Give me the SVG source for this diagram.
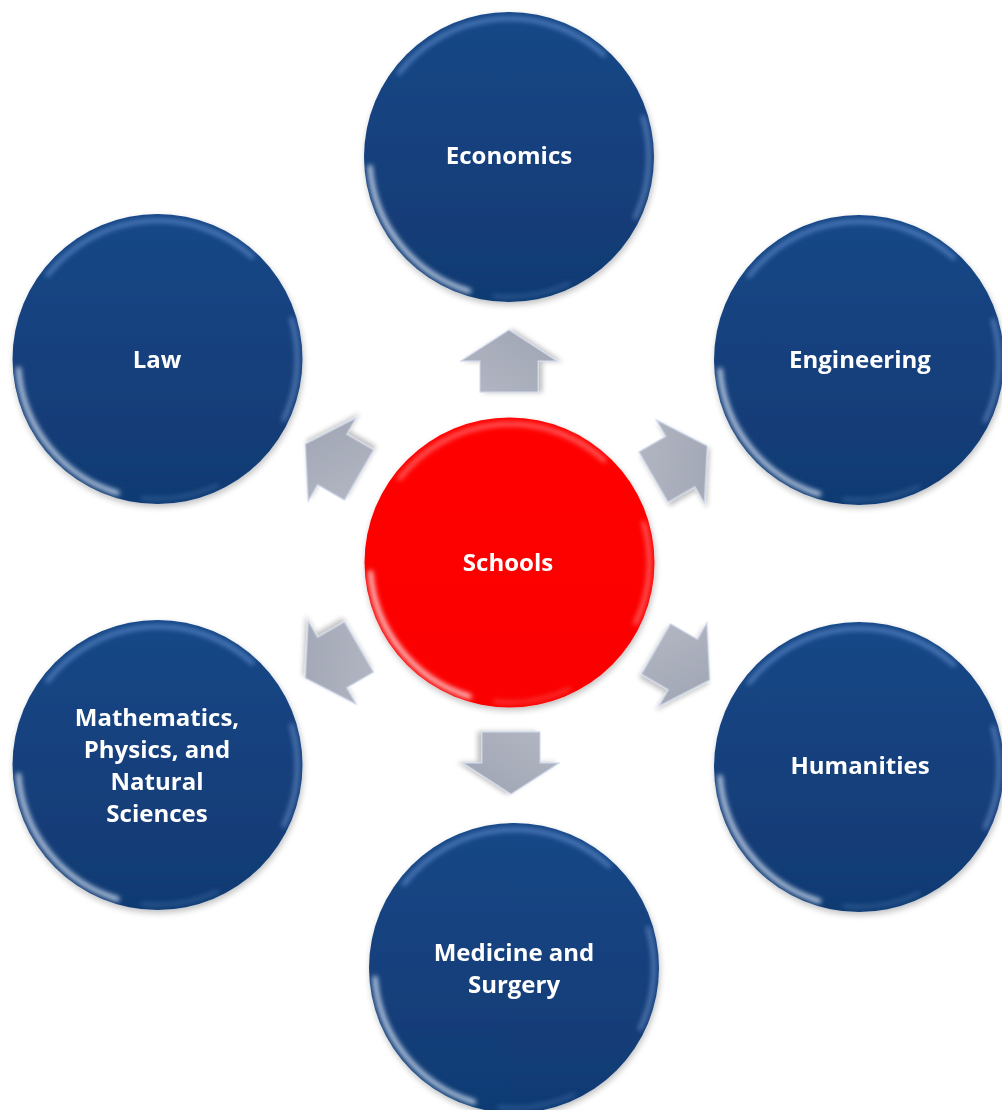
<svg xmlns="http://www.w3.org/2000/svg" xmlns:xlink="http://www.w3.org/1999/xlink" width="1002" height="1110" viewBox="0 0 1002 1110">
<defs>
<style>
.lbl{font-family:"Open Sans","Liberation Sans",sans-serif;font-weight:bold;font-size:24px;fill:#ffffff;text-anchor:middle}
.blue{fill:url(#gBlue);filter:url(#shadow)}
.red{fill:url(#gRed);filter:url(#shadow)}
.arrow{fill:url(#gArrow);stroke:#cdd6ea;stroke-width:1.2;stroke-linejoin:miter;filter:url(#ashadow)}
</style>
<linearGradient id="gBlue" x1="0" y1="0" x2="0" y2="1">
<stop offset="0" stop-color="#144787"/>
<stop offset="1" stop-color="#113a72"/>
</linearGradient>
<linearGradient id="gRed" x1="0" y1="0" x2="0" y2="1">
<stop offset="0" stop-color="#ff0303"/>
<stop offset="1" stop-color="#fa0000"/>
</linearGradient>
<linearGradient id="gArrow" x1="0" y1="0" x2="1" y2="1">
<stop offset="0" stop-color="#b3b7c4"/>
<stop offset="1" stop-color="#9fa4b2"/>
</linearGradient>
<filter id="shadow" x="-10%" y="-10%" width="125%" height="125%">
<feGaussianBlur in="SourceAlpha" stdDeviation="3"/>
<feOffset dx="1" dy="3" result="b"/>
<feComponentTransfer><feFuncA type="linear" slope="0.25"/></feComponentTransfer>
<feMerge><feMergeNode/><feMergeNode in="SourceGraphic"/></feMerge>
</filter>
<filter id="ashadow" x="-30%" y="-30%" width="160%" height="160%">
<feGaussianBlur in="SourceAlpha" stdDeviation="2.5"/>
<feOffset dx="0" dy="4"/>
<feComponentTransfer><feFuncA type="linear" slope="0.25"/></feComponentTransfer>
<feMerge><feMergeNode/><feMergeNode in="SourceGraphic"/></feMerge>
</filter>
<filter id="soft" x="-20%" y="-20%" width="140%" height="140%">
<feGaussianBlur stdDeviation="2.4"/>
</filter>
<g id="bevelBlue" fill="none" filter="url(#soft)" stroke-linecap="round">
<path d="M -110 -84 A 140 140 0 0 1 95 -102" stroke="#7fa9ea" stroke-width="4" opacity="0.6"/>
<path d="M -139 10 A 140 140 0 0 0 -40 134" stroke="#e8f1ff" stroke-width="4.5" opacity="0.85"/>
<path d="M 134 -40 A 140 140 0 0 1 126 61" stroke="#9cc0f5" stroke-width="3.5" opacity="0.55"/>
<path d="M 60 126.5 A 140 140 0 0 1 -15 139" stroke="#7ea8e6" stroke-width="3" opacity="0.35"/>
</g>
<g id="bevelRed" fill="none" filter="url(#soft)" stroke-linecap="round">
<path d="M -110 -84 A 140 140 0 0 1 95 -102" stroke="#ffb0b0" stroke-width="4" opacity="0.6"/>
<path d="M -139 10 A 140 140 0 0 0 -40 134" stroke="#ffffff" stroke-width="4.5" opacity="0.85"/>
<path d="M 134 -40 A 140 140 0 0 1 126 61" stroke="#ffd0d0" stroke-width="3.5" opacity="0.55"/>
<path d="M 60 126.5 A 140 140 0 0 1 -15 139" stroke="#ff9a9a" stroke-width="3" opacity="0.45"/>
</g>
<polygon id="arr" points="0,-29 31,-29 31,-48 62,0 31,48 31,29 0,29"/>
</defs>
<rect width="1002" height="1110" fill="#ffffff"/>

<g id="connectors">
<use xlink:href="#arr" href="#arr" class="arrow" transform="translate(509,392) rotate(-90)"/>
<use xlink:href="#arr" href="#arr" class="arrow" transform="translate(511,732) rotate(90)"/>
<use xlink:href="#arr" href="#arr" class="arrow" transform="translate(359,475) rotate(210)"/>
<use xlink:href="#arr" href="#arr" class="arrow" transform="translate(653.5,477) rotate(-30)"/>
<use xlink:href="#arr" href="#arr" class="arrow" transform="translate(359,647) rotate(150)"/>
<use xlink:href="#arr" href="#arr" class="arrow" transform="translate(656,649) rotate(30)"/>
</g>

<g id="node-economics">
<circle class="blue" cx="509" cy="157" r="145"/>
<use xlink:href="#bevelBlue" href="#bevelBlue" transform="translate(509,157)"/>
<text class="lbl" x="509" y="164">Economics</text>
</g>
<g id="node-law">
<circle class="blue" cx="157.5" cy="359" r="145"/>
<use xlink:href="#bevelBlue" href="#bevelBlue" transform="translate(157.5,359)"/>
<text class="lbl" x="157" y="367.5">Law</text>
</g>
<g id="node-engineering">
<circle class="blue" cx="859" cy="360" r="145"/>
<use xlink:href="#bevelBlue" href="#bevelBlue" transform="translate(859,360)"/>
<text class="lbl" x="860" y="367.5">Engineering</text>
</g>
<g id="node-schools">
<circle class="red" cx="509.5" cy="562.5" r="145"/>
<use xlink:href="#bevelRed" href="#bevelRed" transform="translate(509.5,562.5)"/>
<text class="lbl" x="508" y="570.5">Schools</text>
</g>
<g id="node-math">
<circle class="blue" cx="157.5" cy="765" r="145"/>
<use xlink:href="#bevelBlue" href="#bevelBlue" transform="translate(157.5,765)"/>
<text class="lbl" x="157" y="725.5">Mathematics,</text>
<text class="lbl" x="157" y="757.5">Physics, and</text>
<text class="lbl" x="157" y="789.5">Natural</text>
<text class="lbl" x="157" y="821.5">Sciences</text>
</g>
<g id="node-humanities">
<circle class="blue" cx="859" cy="767" r="145"/>
<use xlink:href="#bevelBlue" href="#bevelBlue" transform="translate(859,767)"/>
<text class="lbl" x="860" y="774">Humanities</text>
</g>
<g id="node-medicine">
<circle class="blue" cx="514" cy="968" r="145"/>
<use xlink:href="#bevelBlue" href="#bevelBlue" transform="translate(514,968)"/>
<text class="lbl" x="514" y="960.5">Medicine and</text>
<text class="lbl" x="514" y="992.5">Surgery</text>
</g>
</svg>
